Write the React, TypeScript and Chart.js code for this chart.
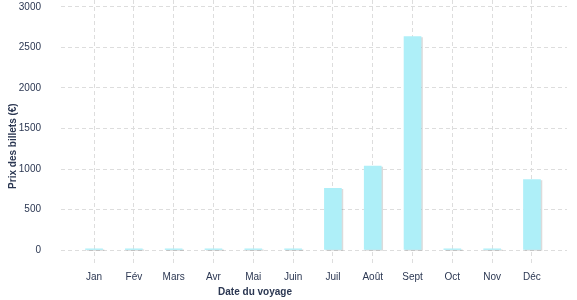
import { useEffect, useRef } from 'react';
import { Chart, registerables } from 'chart.js';
Chart.register(...registerables);

const months = ['Jan', 'Fév', 'Mars', 'Avr', 'Mai', 'Juin', 'Juil', 'Août', 'Sept', 'Oct', 'Nov', 'Déc'];
const prices = [15, 15, 15, 15, 15, 15, 763, 1035, 2636, 15, 15, 870];
const yTicks = [0, 500, 1000, 1500, 2000, 2500, 3000];
const yTitle = 'Prix des billets (€)';
const xTitle = 'Date du voyage';

const TEXT = '#2b3752';
const FONT = "'Liberation Sans', Arial, sans-serif";

const shadowPlugin = {
  id: 'barShadow',
  beforeDatasetsDraw(chart: any) {
    const ctx = chart.ctx;
    ctx.save();
    ctx.shadowColor = 'rgba(0,0,0,0.14)';
    ctx.shadowOffsetX = 1.5;
    ctx.shadowOffsetY = 1;
    ctx.shadowBlur = 0;
  },
  afterDatasetsDraw(chart: any) {
    chart.ctx.restore();
  },
};

const titlePlugin = {
  id: 'axisTitles',
  afterDraw(chart: any) {
    const ctx = chart.ctx;
    ctx.save();
    ctx.fillStyle = TEXT;
    ctx.font = `bold 10px ${FONT}`;
    ctx.textAlign = 'center';
    ctx.textBaseline = 'middle';
    ctx.fillText(xTitle, chart.width * 0.442, chart.height - 8);
    ctx.translate(13, chart.height * 0.487);
    ctx.rotate(-Math.PI / 2);
    ctx.fillText(yTitle, 0, 0);
    ctx.restore();
  },
};

export default function App() {
  const ref = useRef<HTMLCanvasElement>(null);
  useEffect(() => {
    document.body.style.margin = '0';
    const chart = new Chart(ref.current!, {
      type: 'bar',
      data: {
        datasets: [
          {
            data: prices.map((y, i) => ({ x: i, y })),
            backgroundColor: '#aeeff8',
            barThickness: 17,
          },
        ],
      },
      plugins: [shadowPlugin, titlePlugin],
      options: {
        animation: false,
        responsive: false,
        layout: { autoPadding: false, padding: { right: 10, top: 0, left: 0, bottom: 0 } },
        plugins: { legend: { display: false }, tooltip: { enabled: false }, title: { display: false } },
        scales: {
          x: {
            type: 'linear',
            offset: false,
            min: -0.83,
            max: 11.88,
            afterBuildTicks: (s: any) => {
              s.ticks = months.map((_, i) => ({ value: i }));
            },
            afterFit: (s: any) => {
              s.height = 37;
              s.paddingLeft = 0;
              s.paddingRight = 0;
              s.paddingTop = 0;
              s.paddingBottom = 0;
            },
            ticks: {
              callback: (v: any) => months[v as number] ?? '',
              color: TEXT,
              font: { family: FONT, size: 10 },
              padding: 8,
              maxRotation: 0,
              autoSkip: false,
            },
            grid: { color: '#dddddd', drawTicks: false, lineWidth: 1, offset: false },
            border: { display: false, dash: [4, 3] },
          },
          y: {
            type: 'linear',
            offset: false,
            min: -160,
            max: 3086,
            afterBuildTicks: (s: any) => {
              s.ticks = yTicks.map((v) => ({ value: v }));
            },
            afterFit: (s: any) => {
              s.width = 61;
              s.paddingLeft = 0;
              s.paddingRight = 0;
              s.paddingTop = 0;
              s.paddingBottom = 0;
            },
            ticks: {
              callback: (v: any) => String(v),
              color: TEXT,
              font: { family: FONT, size: 10 },
              padding: 20,
            },
            grid: { color: '#dddddd', drawTicks: false, lineWidth: 1 },
            border: { display: false, dash: [4, 3] },
          },
        },
      },
    });
    return () => chart.destroy();
  }, []);
  return <canvas ref={ref} width={577} height={300} style={{ display: 'block' }} />;
}
